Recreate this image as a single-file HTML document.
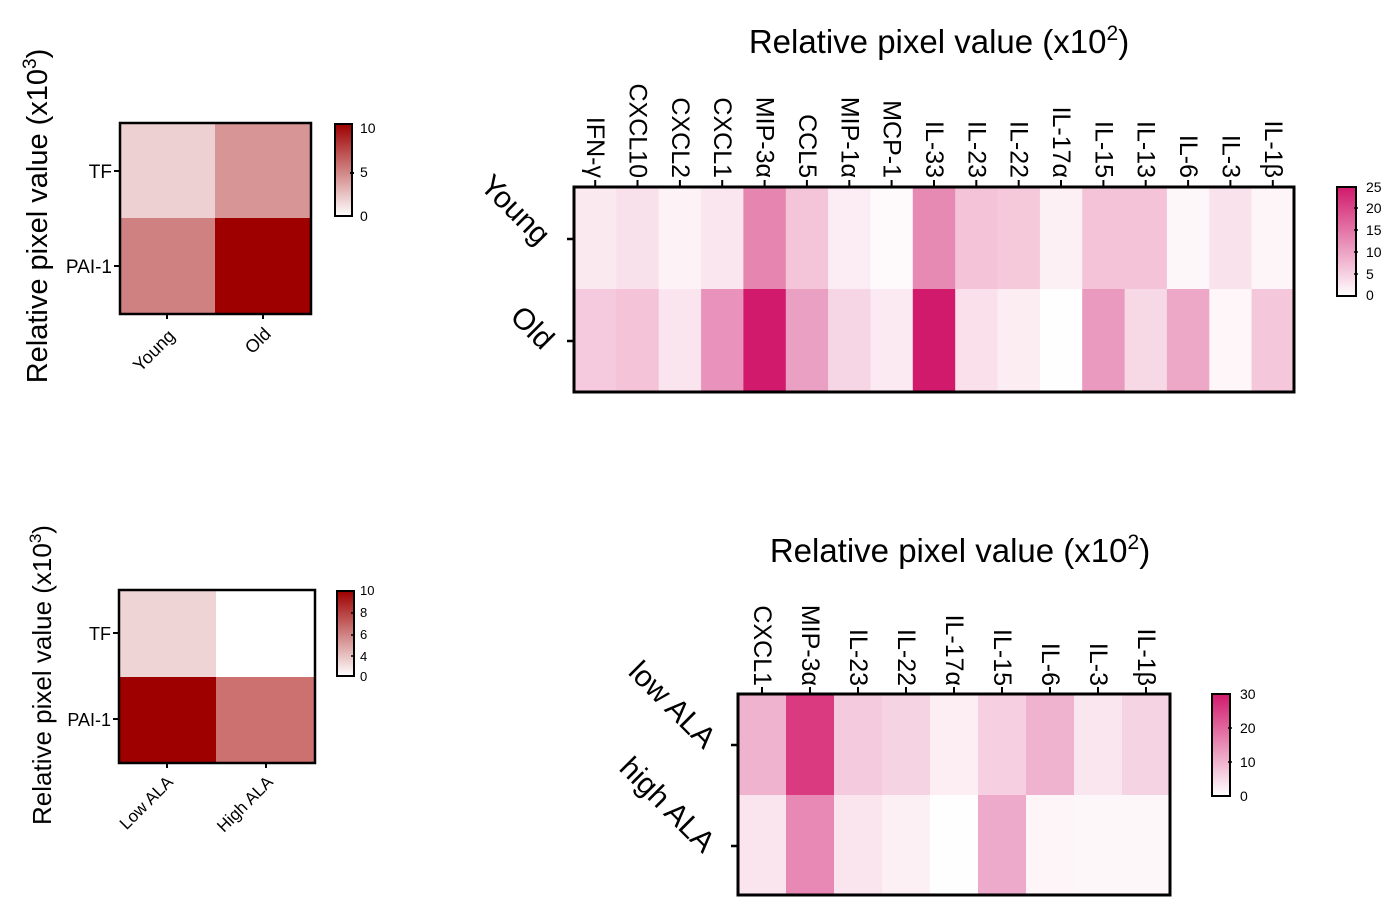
<!DOCTYPE html>
<html><head><meta charset="utf-8"><style>body{margin:0;background:#fff}svg{display:block}text{font-family:"Liberation Sans",Arial,sans-serif;fill:#000}</style></head>
<body>
<svg width="1398" height="905" viewBox="0 0 1398 905" xmlns="http://www.w3.org/2000/svg">
<defs>
<linearGradient id="gr" x1="0" y1="1" x2="0" y2="0"><stop offset="0" stop-color="#fff"/><stop offset="1" stop-color="#9e0000"/></linearGradient>
<linearGradient id="gp" x1="0" y1="1" x2="0" y2="0"><stop offset="0" stop-color="#fff"/><stop offset="1" stop-color="#d11a6c"/></linearGradient>
</defs>

<!-- Top-left -->
<rect x="120" y="123" width="95" height="95" fill="#edd1d2"/>
<rect x="215" y="123" width="96" height="95" fill="#d89595"/>
<rect x="120" y="218" width="95" height="96" fill="#cf8080"/>
<rect x="215" y="218" width="96" height="96" fill="#9e0000"/>
<rect x="120" y="123" width="191" height="191" fill="none" stroke="#000" stroke-width="2.5"/>
<path d="M114 171h6M114 266h6M167 314v5M263 314v5" stroke="#000" stroke-width="2"/>
<text x="112" y="178" font-size="19" text-anchor="end">TF</text>
<text x="112" y="273" font-size="19" text-anchor="end">PAI-1</text>
<text transform="translate(176,337) rotate(-45)" font-size="18" text-anchor="end">Young</text>
<text transform="translate(272,335) rotate(-45)" font-size="18" text-anchor="end">Old</text>
<text transform="translate(47,216) rotate(-90)" font-size="29" text-anchor="middle">Relative pixel value (x10<tspan dy="-11" font-size="19">3</tspan><tspan dy="11">)</tspan></text>
<rect x="335" y="124" width="17" height="92" fill="url(#gr)" stroke="#000" stroke-width="2"/>
<path d="M350 173h4" stroke="#000" stroke-width="2"/>
<text x="360" y="133" font-size="14">10</text>
<text x="360" y="177" font-size="14">5</text>
<text x="360" y="221" font-size="14">0</text>

<!-- Top-right -->
<text x="939" y="53" font-size="33" text-anchor="middle">Relative pixel value (x10<tspan dy="-13" font-size="21">2</tspan><tspan dy="13">)</tspan></text>
<g>
<rect x="574" y="187" width="43" height="103" fill="#fbe9f0"/>
<rect x="616.3" y="187" width="43" height="103" fill="#f8e1ea"/>
<rect x="658.7" y="187" width="43" height="103" fill="#fdf3f7"/>
<rect x="701.1" y="187" width="43" height="103" fill="#fae6ee"/>
<rect x="743.4" y="187" width="43" height="103" fill="#e686b0"/>
<rect x="785.8" y="187" width="43" height="103" fill="#f4c5d8"/>
<rect x="828.1" y="187" width="43" height="103" fill="#fbedf3"/>
<rect x="870.5" y="187" width="43" height="103" fill="#fefafc"/>
<rect x="912.8" y="187" width="43" height="103" fill="#e68ab3"/>
<rect x="955.2" y="187" width="43" height="103" fill="#f4c3d7"/>
<rect x="997.5" y="187" width="43" height="103" fill="#f5c8da"/>
<rect x="1039.9" y="187" width="43" height="103" fill="#fcf0f5"/>
<rect x="1082.2" y="187" width="43" height="103" fill="#f4c3d8"/>
<rect x="1124.6" y="187" width="43" height="103" fill="#f4c3d8"/>
<rect x="1166.9" y="187" width="43" height="103" fill="#fef7fa"/>
<rect x="1209.3" y="187" width="43" height="103" fill="#f9e2ec"/>
<rect x="1251.6" y="187" width="42" height="103" fill="#fdf5f8"/>
<rect x="574" y="289" width="43" height="103" fill="#f5cade"/>
<rect x="616.3" y="289" width="43" height="103" fill="#f4c3d7"/>
<rect x="658.7" y="289" width="43" height="103" fill="#fae5ee"/>
<rect x="701.1" y="289" width="43" height="103" fill="#e992bb"/>
<rect x="743.4" y="289" width="43" height="103" fill="#d11a6c"/>
<rect x="785.8" y="289" width="43" height="103" fill="#eaa0c2"/>
<rect x="828.1" y="289" width="43" height="103" fill="#f6d6e4"/>
<rect x="870.5" y="289" width="43" height="103" fill="#fbeaf1"/>
<rect x="912.8" y="289" width="43" height="103" fill="#d11a6c"/>
<rect x="955.2" y="289" width="43" height="103" fill="#f9e0eb"/>
<rect x="997.5" y="289" width="43" height="103" fill="#fcedf3"/>
<rect x="1039.9" y="289" width="43" height="103" fill="#fefefe"/>
<rect x="1082.2" y="289" width="43" height="103" fill="#e99abe"/>
<rect x="1124.6" y="289" width="43" height="103" fill="#f7d8e5"/>
<rect x="1166.9" y="289" width="43" height="103" fill="#eda8c8"/>
<rect x="1209.3" y="289" width="43" height="103" fill="#fef6f9"/>
<rect x="1251.6" y="289" width="42" height="103" fill="#f4c8da"/>
</g>
<rect x="574" y="187" width="720" height="205" fill="none" stroke="#000" stroke-width="3"/>
<path d="M567 239h7M567 341h7" stroke="#000" stroke-width="2.5"/>
<path d="M595.2 180v6M637.5 180v6M679.9 180v6M722.2 180v6M764.6 180v6M806.9 180v6M849.3 180v6M891.6 180v6M934 180v6M976.3 180v6M1018.7 180v6M1061 180v6M1103.4 180v6M1145.7 180v6M1188.1 180v6M1230.4 180v6M1272.8 180v6" stroke="#000" stroke-width="2"/>
<g font-size="25" text-anchor="end" dominant-baseline="central">
<text transform="translate(595.2,178) rotate(90)">IFN-γ</text>
<text transform="translate(637.5,178) rotate(90)">CXCL10</text>
<text transform="translate(679.9,178) rotate(90)">CXCL2</text>
<text transform="translate(722.2,178) rotate(90)">CXCL1</text>
<text transform="translate(764.6,178) rotate(90)">MIP-3α</text>
<text transform="translate(806.9,178) rotate(90)">CCL5</text>
<text transform="translate(849.3,178) rotate(90)">MIP-1α</text>
<text transform="translate(891.6,178) rotate(90)">MCP-1</text>
<text transform="translate(934,178) rotate(90)">IL-33</text>
<text transform="translate(976.3,178) rotate(90)">IL-23</text>
<text transform="translate(1018.7,178) rotate(90)">IL-22</text>
<text transform="translate(1061,178) rotate(90)">IL-17α</text>
<text transform="translate(1103.4,178) rotate(90)">IL-15</text>
<text transform="translate(1145.7,178) rotate(90)">IL-13</text>
<text transform="translate(1188.1,178) rotate(90)">IL-6</text>
<text transform="translate(1230.4,178) rotate(90)">IL-3</text>
<text transform="translate(1272.8,178) rotate(90)">IL-1β</text>
</g>
<text transform="translate(515,210) rotate(45)" font-size="30" text-anchor="middle" dominant-baseline="central">Young</text>
<text transform="translate(532,328) rotate(45)" font-size="30" text-anchor="middle" dominant-baseline="central">Old</text>
<rect x="1337" y="187" width="19" height="109" fill="url(#gp)" stroke="#000" stroke-width="2"/>
<path d="M1354 208h4M1354 230h4M1354 252h4M1354 274h4" stroke="#000" stroke-width="1.5"/>
<text x="1366" y="192" font-size="14">25</text>
<text x="1366" y="213" font-size="14">20</text>
<text x="1366" y="235" font-size="14">15</text>
<text x="1366" y="257" font-size="14">10</text>
<text x="1366" y="279" font-size="14">5</text>
<text x="1366" y="300" font-size="14">0</text>

<!-- Bottom-left -->
<rect x="119" y="590" width="97" height="87" fill="#efd4d5"/>
<rect x="216" y="590" width="99" height="87" fill="#ffffff"/>
<rect x="119" y="677" width="97" height="86" fill="#9e0000"/>
<rect x="216" y="677" width="99" height="86" fill="#cd7070"/>
<rect x="119" y="590" width="196" height="173" fill="none" stroke="#000" stroke-width="2.5"/>
<path d="M113 633h6M113 719h6M167 763v5M266 763v5" stroke="#000" stroke-width="2"/>
<text x="111" y="640" font-size="18" text-anchor="end">TF</text>
<text x="111" y="726" font-size="18" text-anchor="end">PAI-1</text>
<text transform="translate(174,783) rotate(-45)" font-size="17" text-anchor="end">Low ALA</text>
<text transform="translate(274,783) rotate(-45)" font-size="17" text-anchor="end">High ALA</text>
<text transform="translate(51,675) rotate(-90)" font-size="26" text-anchor="middle">Relative pixel value (x10<tspan dy="-10" font-size="17">3</tspan><tspan dy="10">)</tspan></text>
<rect x="337" y="591" width="17" height="85" fill="url(#gr)" stroke="#000" stroke-width="2"/>
<path d="M351 613h4M351 635h4M351 656h4" stroke="#000" stroke-width="1.5"/>
<text x="360" y="595" font-size="13">10</text>
<text x="360" y="617" font-size="13">8</text>
<text x="360" y="639" font-size="13">6</text>
<text x="360" y="661" font-size="13">4</text>
<text x="360" y="681" font-size="13">0</text>

<!-- Bottom-right -->
<text x="960" y="562" font-size="33" text-anchor="middle">Relative pixel value (x10<tspan dy="-13" font-size="21">2</tspan><tspan dy="13">)</tspan></text>
<rect x="738" y="694" width="49" height="101" fill="#efb2cf"/>
<rect x="786" y="694" width="49" height="101" fill="#da3a80"/>
<rect x="834" y="694" width="49" height="101" fill="#f4cade"/>
<rect x="882" y="694" width="49" height="101" fill="#f6d3e3"/>
<rect x="930" y="694" width="49" height="101" fill="#fdeef4"/>
<rect x="978" y="694" width="49" height="101" fill="#f6cfe1"/>
<rect x="1026" y="694" width="49" height="101" fill="#efb2cf"/>
<rect x="1074" y="694" width="49" height="101" fill="#fae6ef"/>
<rect x="1122" y="694" width="48" height="101" fill="#f6d3e3"/>
<rect x="738" y="795" width="49" height="100" fill="#fae4ee"/>
<rect x="786" y="795" width="49" height="100" fill="#e888b4"/>
<rect x="834" y="795" width="49" height="100" fill="#fae4ee"/>
<rect x="882" y="795" width="49" height="100" fill="#fcf0f5"/>
<rect x="930" y="795" width="49" height="100" fill="#fefefe"/>
<rect x="978" y="795" width="49" height="100" fill="#eeaacb"/>
<rect x="1026" y="795" width="49" height="100" fill="#fef5f9"/>
<rect x="1074" y="795" width="49" height="100" fill="#fdf7fa"/>
<rect x="1122" y="795" width="48" height="100" fill="#fdf7fa"/>
<rect x="738" y="694" width="432" height="201" fill="none" stroke="#000" stroke-width="3"/>
<path d="M731 745h7M731 846h7" stroke="#000" stroke-width="2.5"/>
<path d="M762 687v6M810 687v6M858 687v6M906 687v6M954 687v6M1002 687v6M1050 687v6M1098 687v6M1146 687v6" stroke="#000" stroke-width="2"/>
<g font-size="25" text-anchor="end" dominant-baseline="central">
<text transform="translate(762,686) rotate(90)">CXCL1</text>
<text transform="translate(810,686) rotate(90)">MIP-3α</text>
<text transform="translate(858,686) rotate(90)">IL-23</text>
<text transform="translate(906,686) rotate(90)">IL-22</text>
<text transform="translate(954,686) rotate(90)">IL-17α</text>
<text transform="translate(1002,686) rotate(90)">IL-15</text>
<text transform="translate(1050,686) rotate(90)">IL-6</text>
<text transform="translate(1098,686) rotate(90)">IL-3</text>
<text transform="translate(1146,686) rotate(90)">IL-1β</text>
</g>
<text transform="translate(672,705) rotate(45)" font-size="30" text-anchor="middle" dominant-baseline="central">low ALA</text>
<text transform="translate(667,805) rotate(45)" font-size="30" text-anchor="middle" dominant-baseline="central">high ALA</text>
<rect x="1212" y="694" width="18" height="102" fill="url(#gp)" stroke="#000" stroke-width="2"/>
<path d="M1228 728h4M1228 762h4" stroke="#000" stroke-width="1.5"/>
<text x="1240" y="699" font-size="14">30</text>
<text x="1240" y="733" font-size="14">20</text>
<text x="1240" y="767" font-size="14">10</text>
<text x="1240" y="801" font-size="14">0</text>
</svg>
</body></html>
